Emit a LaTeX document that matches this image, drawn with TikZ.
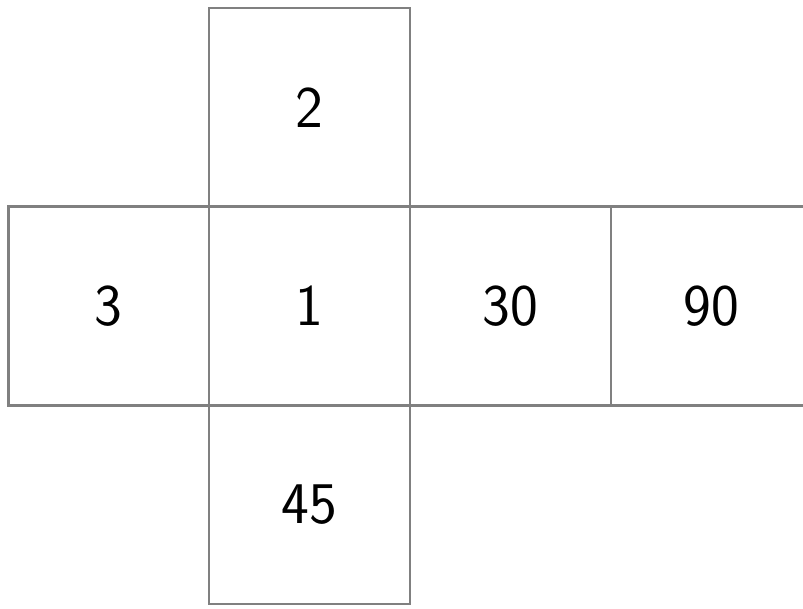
\documentclass[tikz,border=0pt]{standalone}
\usetikzlibrary{positioning}

\begin{document}
\begin{tikzpicture}[
    face/.style={
        rectangle, draw=black!50, line width=1.6pt,
        minimum width=5.02cm, minimum height=4.97cm,
        inner sep=0pt, outer sep=0pt, font=\fontsize{42}{46}\selectfont\sffamily
    },
]

% picture frame (right face runs off the sheet)
\clip (0, 0) rectangle (20.075, 15.2);
\fill[white] (0, 0) rectangle (20.075, 15.2);

% ================================================================
%  CUBE NET
% ================================================================
\node[face] (f1) at (7.74, 7.55) {1};
\node[face, above=0pt of f1] (f2)  {2};
\node[face, below=0pt of f1] (f45) {45};
\node[face, left=0pt of f1]  (f3)  {3};
\node[face, right=0pt of f1] (f30) {30};
\node[face, right=0pt of f30] (f90) {90};

\end{tikzpicture}
\end{document}
